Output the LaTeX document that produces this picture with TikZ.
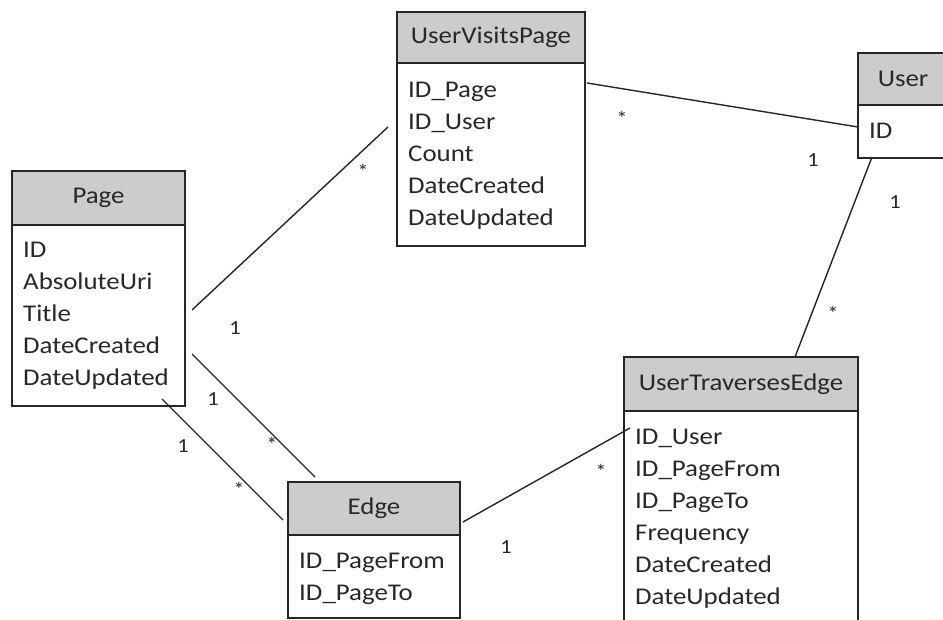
\documentclass[tikz,border=0pt]{standalone}
\usepackage{fontspec}
\setmainfont{Carlito}[FakeStretch=1.12]
\usetikzlibrary{calc}
\definecolor{linec}{RGB}{38,38,38}
\definecolor{hdrfill}{RGB}{204,204,204}
\definecolor{txt}{RGB}{40,40,40}
\tikzset{
  hdr/.style={draw=linec, fill=hdrfill, line width=1.8pt, anchor=north west,
    inner sep=0pt, outer sep=0pt, text=txt, font=\fontsize{24}{28}\selectfont},
  bodybox/.style={draw=linec, fill=white, line width=1.8pt, anchor=north west,
    inner sep=0pt, outer sep=0pt},
  field/.style={anchor=base west, inner sep=0pt, text=txt,
    font=\fontsize{24}{28}\selectfont},
  conn/.style={draw=linec, line width=1.4pt},
  mult/.style={inner sep=0pt, text=txt, font=\fontsize{20}{22}\selectfont},
  many/.style={mult, anchor=base}
}
% \ertable{name}{x}{y}{width}{header h}{body h}{first baseline}{title}{fields}
\newcommand\ertable[9]{%
  \node[hdr, minimum width=#4pt, minimum height=#5pt] (#1h) at (#2,#3) {#8};
  \node[bodybox, minimum width=#4pt, minimum height=#6pt] (#1b) at (#1h.south west) {};
  \foreach \f [count=\i] in {#9}
    \node[field] (#1f\i) at ($(#1b.north west)+(11,#7+32*\i-32)$) {\f};
}
\begin{document}
\begin{tikzpicture}[x=1pt,y=-1pt]
\useasboundingbox (0,0) rectangle (943,620);
\clip (0,0) rectangle (943,620);
\fill[white] (0,0) rectangle (943,620);

% entity tables
\ertable{page}{12}{171}{173}{54}{181}{33}{Page}{ID,AbsoluteUri,Title,DateCreated,DateUpdated}
\ertable{uvp}{397}{12}{188}{51}{183}{35}{UserVisitsPage}{ID\_Page,ID\_User,Count,DateCreated,DateUpdated}
\ertable{user}{858}{53}{90}{52}{53}{34}{User}{ID}
\ertable{ute}{624}{357}{234}{54}{300}{33}{UserTraversesEdge}{ID\_User,ID\_PageFrom,ID\_PageTo,Frequency,DateCreated,DateUpdated}
\ertable{edge}{288}{482}{172}{53}{83}{33}{Edge}{ID\_PageFrom,ID\_PageTo}

% connector end points
\coordinate (pgA) at (192,310);  \coordinate (uvpA) at (388,127);
\coordinate (uvpB) at (587,83);  \coordinate (usrA) at (858,127);
\coordinate (usrB) at (872,157); \coordinate (uteA) at (795,357);
\coordinate (edgA) at (463,522); \coordinate (uteB) at (630,428);
\coordinate (pgB) at (192,354);  \coordinate (edgB) at (315,477);
\coordinate (pgC) at (162,399);  \coordinate (edgC) at (283,520);

% relationships
\draw[conn] (pgA) -- (uvpA);
\draw[conn] (uvpB) -- (usrA);
\draw[conn] (usrB) -- (uteA);
\draw[conn] (edgA) -- (uteB);
\draw[conn] (pgB) -- (edgB);
\draw[conn] (pgC) -- (edgC);

% multiplicities
\node[mult] (m1) at (235,328) {1};
\node[many] (m2) at (363,179) {*};
\node[many] (m3) at (622,126) {*};
\node[mult] (m4) at (813,160) {1};
\node[mult] (m5) at (895,202) {1};
\node[many] (m6) at (833,321) {*};
\node[many] (m7) at (601,478) {*};
\node[mult] (m8) at (506,547) {1};
\node[mult] (m9) at (213,399) {1};
\node[many] (m10) at (272,451) {*};
\node[mult] (m11) at (183,446) {1};
\node[many] (m12) at (239,496) {*};
\end{tikzpicture}
\end{document}
